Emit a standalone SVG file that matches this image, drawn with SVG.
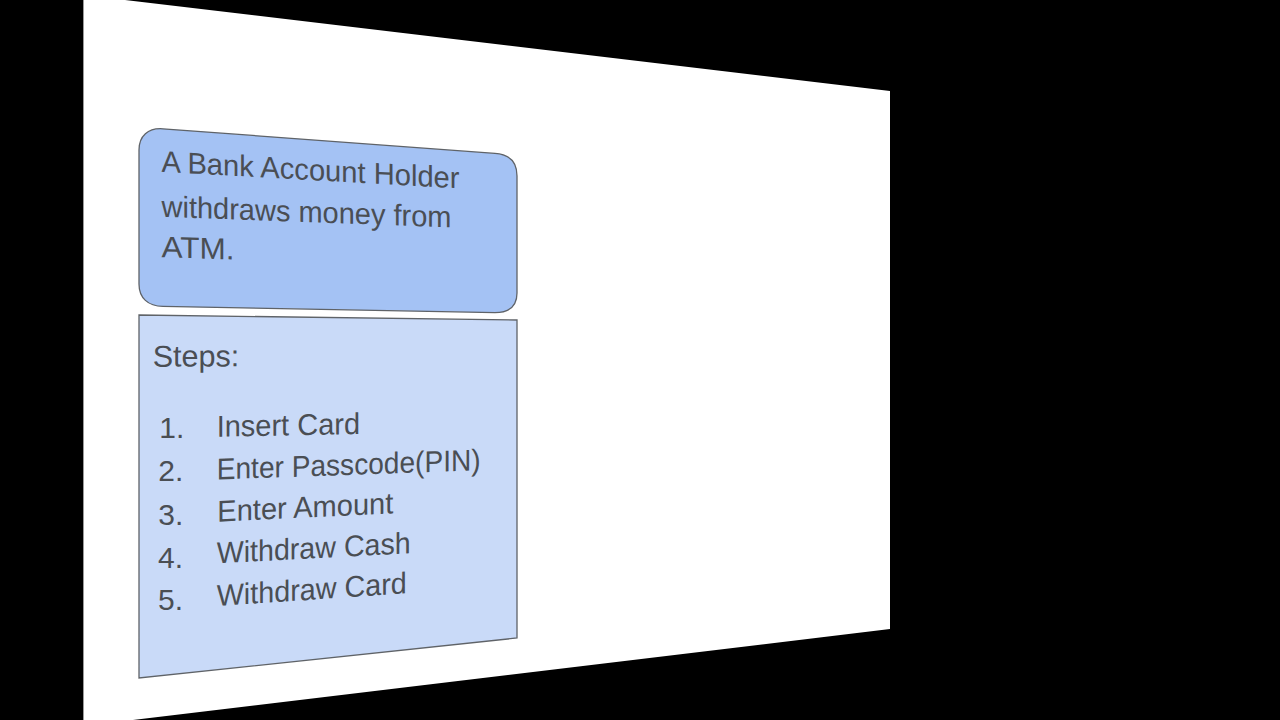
<svg xmlns="http://www.w3.org/2000/svg" width="1280" height="720" viewBox="0 0 1280 720">
  <style>
    .t { font-family: "Liberation Sans", Arial, sans-serif; fill: #4a4e54; font-size: 30px; }
    .box { stroke: #5f6368; stroke-width: 1.3; }
  </style>
  <rect x="0" y="0" width="1280" height="720" fill="#000000"/>
  <g id="slide">
    <polygon points="83,-5 890,91 890,629 83,726" fill="#ffffff"/>
    <line x1="83.5" y1="0" x2="83.5" y2="720" stroke="#9a9a9a" stroke-width="1"/>
  </g>
  <g id="node-title">
    <path class="box" fill="#a4c2f4" d="M139,150 C139,136 148,127.7 163,128.8 L495,153.4 C510,154.4 517,162 517,176 L517,293 C517,306 510,312.5 495,312.6 L163,306.4 C148,306.2 139,298 139,284 Z"/>
    <text class="t" transform="matrix(1,0.056,0,1,161.5,171.7)" font-size="31" textLength="298" lengthAdjust="spacingAndGlyphs">A Bank Account Holder</text>
    <text class="t" transform="matrix(1,0.037,0,1,161.5,216.7)" font-size="31" textLength="290" lengthAdjust="spacingAndGlyphs">withdraws money from</text>
    <text class="t" transform="matrix(1,0.03,0,1,161.5,257.3)" font-size="31" textLength="73" lengthAdjust="spacingAndGlyphs">ATM.</text>
  </g>
  <g id="node-steps">
    <polygon class="box" fill="#c9daf8" points="139,315 517,320 517,638 139,678"/>
    <text class="t" transform="matrix(1,-0.005,0,1,152.7,366.7)" font-size="30.5" textLength="86.6" lengthAdjust="spacingAndGlyphs">Steps:</text>
    <text class="t" transform="matrix(1,0,0,1,159.3,438.3)">1.</text>
    <text class="t" transform="matrix(1,-0.019,0,1,216.7,436.7)" textLength="143.3" lengthAdjust="spacingAndGlyphs">Insert Card</text>
    <text class="t" transform="matrix(1,0,0,1,158.3,481)">2.</text>
    <text class="t" transform="matrix(1,-0.035,0,1,216.7,479.5)" textLength="264" lengthAdjust="spacingAndGlyphs">Enter Passcode(PIN)</text>
    <text class="t" transform="matrix(1,0,0,1,158.3,525)">3.</text>
    <text class="t" transform="matrix(1,-0.048,0,1,217.3,521.7)" textLength="176" lengthAdjust="spacingAndGlyphs">Enter Amount</text>
    <text class="t" transform="matrix(1,0,0,1,158,568.3)">4.</text>
    <text class="t" transform="matrix(1,-0.052,0,1,216.7,563.3)" textLength="194" lengthAdjust="spacingAndGlyphs">Withdraw Cash</text>
    <text class="t" transform="matrix(1,0,0,1,158,610)">5.</text>
    <text class="t" transform="matrix(1,-0.067,0,1,216.7,606)" textLength="190" lengthAdjust="spacingAndGlyphs">Withdraw Card</text>
  </g>
</svg>
